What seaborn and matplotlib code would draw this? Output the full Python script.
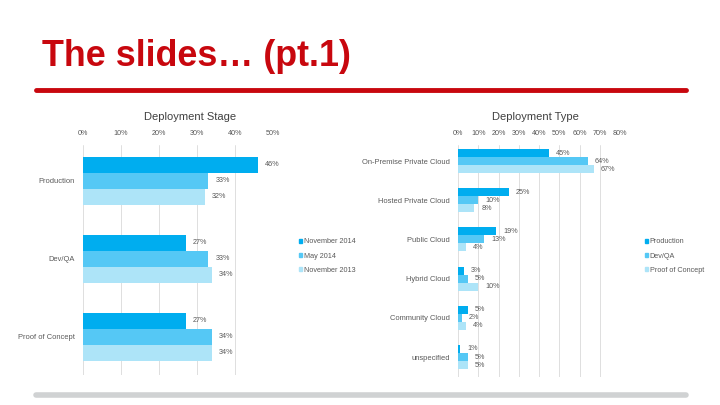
import pandas as pd
import matplotlib
matplotlib.use("Agg")
import matplotlib.pyplot as plt
import matplotlib.patches as mpatches
import seaborn as sns

# --- données ---
stage_cats = ["Production", "Dev/QA", "Proof of Concept"]
stage_series = ["November 2014", "May 2014", "November 2013"]
stage_nov14 = [46, 27, 27]
stage_may14 = [33, 33, 34]
stage_nov13 = [32, 34, 34]

type_cats = ["On-Premise Private Cloud", "Hosted Private Cloud", "Public Cloud",
             "Hybrid Cloud", "Community Cloud", "unspecified"]
type_series = ["Production", "Dev/QA", "Proof of Concept"]
type_prod = [45, 25, 19, 3, 5, 1]
type_dev = [64, 10, 13, 5, 2, 5]
type_poc = [67, 8, 4, 10, 4, 5]

stage_ticks = [0, 10, 20, 30, 40, 50]
type_ticks = [0, 10, 20, 30, 40, 50, 60, 70, 80]

colors = ["#00ADEF", "#55C8F5", "#ADE4F8"]
txt_grey = "#595959"
red = "#C8070E"

sns.set_theme(style="white")
plt.rcParams["font.family"] = ["Liberation Sans", "DejaVu Sans"]


def long_df(cats, series, values):
    rows = []
    for s, vals in zip(series, values):
        for c, v in zip(cats, vals):
            rows.append({"cat": c, "serie": s, "val": v})
    return pd.DataFrame(rows)


df_stage = long_df(stage_cats, stage_series, [stage_nov14, stage_may14, stage_nov13])
df_type = long_df(type_cats, type_series, [type_prod, type_dev, type_poc])

fig = plt.figure(figsize=(7.2, 4.05), dpi=100)
fig.patch.set_facecolor("white")

# titre + lignes de la diapo
fig.text(42 / 720, 1 - 57 / 405, "The slides… (pt.1)", color=red, fontsize=25.8,
         fontweight="bold", va="center", ha="left")
fig.add_artist(plt.Line2D([36 / 720, 686 / 720], [1 - 90 / 405] * 2, color=red, lw=3.5))
fig.add_artist(plt.Line2D([36 / 720, 686 / 720], [1 - 395 / 405] * 2, color="#D0D2D3", lw=4))


def draw(ax, df, cats, series, ticks, xmax, ylim, title, title_x, leg_x):
    sns.barplot(data=df, y="cat", x="val", hue="serie", order=cats, hue_order=series,
                palette=colors, orient="h", width=0.615, ax=ax, legend=False,
                saturation=1, edgecolor="none")
    ax.set_xlim(0, xmax)
    ax.set_ylim(*ylim)
    ax.set_xticks(ticks)
    ax.set_xticklabels([f"{t}%" for t in ticks])
    ax.xaxis.tick_top()
    ax.tick_params(axis="x", length=0, labelsize=5.2, labelcolor=txt_grey, pad=6)
    ax.tick_params(axis="y", length=0, labelsize=5.4, labelcolor=txt_grey, pad=6)
    ax.set_xlabel("")
    ax.set_ylabel("")
    for sp in ax.spines.values():
        sp.set_visible(False)
    ax.grid(axis="x", color="#D9D9D9", lw=0.6)
    ax.set_axisbelow(True)
    for cont in ax.containers:
        labels = [f"{int(round(b.get_width()))}%" for b in cont]
        ax.bar_label(cont, labels=labels, padding=5, fontsize=5.2, color=txt_grey)
    fig.text(title_x, 1 - 117 / 405, title, fontsize=8, color="#404040",
             ha="center", va="center")
    handles = [mpatches.Patch(color=c, label=s) for c, s in zip(colors, series)]
    ax.legend(handles=handles, loc="center left", bbox_to_anchor=(leg_x, 1 - 256 / 405),
              bbox_transform=fig.transFigure, frameon=False, fontsize=5.2,
              handlelength=0.5, handleheight=0.5, handletextpad=0.2,
              labelspacing=1.0, labelcolor=txt_grey)


ax1 = fig.add_axes([83 / 720, 1 - 375 / 405, 190 / 720, 230 / 405])
draw(ax1, df_stage, stage_cats, stage_series, stage_ticks, 50, (2.49, -0.46),
     "Deployment Stage", 190 / 720, 292 / 720)

ax2 = fig.add_axes([458 / 720, 1 - 377 / 405, 162 / 720, 232 / 405])
draw(ax2, df_type, type_cats, type_series, type_ticks, 80, (5.51, -0.41),
     "Deployment Type", 535 / 720, 638 / 720)

fig.savefig("out.png", dpi=100, facecolor="white")
